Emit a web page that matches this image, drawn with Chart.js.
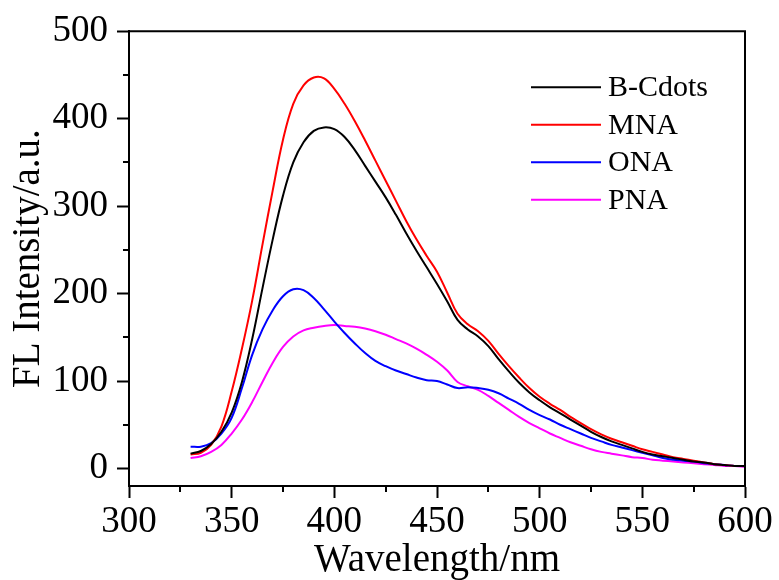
<!DOCTYPE html>
<html>
<head>
<meta charset="utf-8">
<script src="https://cdn.jsdelivr.net/npm/chart.js@4.4.1/dist/chart.umd.min.js"></script>
<style>
  html, body { margin: 0; padding: 0; background: #fff; }
  #wrap { width: 779px; height: 580px; }
</style>
</head>
<body>
<div id="wrap"><canvas id="flChart" width="779" height="580"></canvas></div>
<script>
// wavelength (nm)
const wavelengths = [330, 335, 340, 345, 350, 355, 360, 365, 370, 375,
  380, 385, 390, 395, 400, 405, 410, 415, 420, 425,
  430, 435, 440, 445, 450, 455, 460, 465, 470, 475,
  480, 485, 490, 495, 500, 505, 510, 515, 520, 525,
  530, 535, 540, 545, 550, 555, 560, 565, 570, 575,
  580, 585, 590, 595, 600];

const bCdots = [17, 20, 28, 42, 64, 99, 148, 206, 262, 312,
  350, 373, 386, 390, 388, 379, 364, 346, 328, 310,
  290, 269, 249, 230, 211, 191, 170, 159, 151, 140,
  125, 111, 98, 87, 78, 70, 63, 56, 49, 42,
  36, 31, 27, 23, 19, 16, 14, 12, 10, 8,
  7, 5, 4, 3, 3];

const mna = [16, 18, 27, 48, 88, 137, 192, 256, 318, 376,
  417, 438, 447, 446, 434, 417, 397, 375, 352, 329,
  306, 283, 262, 243, 225, 201, 177, 165, 157, 146,
  131, 117, 104, 92, 82, 74, 67, 59, 52, 45,
  39, 34, 30, 26, 22, 19, 16, 13, 11, 9,
  7, 5, 4, 3, 3];

const ona = [25, 25, 29, 40, 58, 92, 130, 159, 181, 197,
  205, 204, 195, 182, 168, 155, 143, 132, 123, 117,
  112, 108, 104, 101, 100, 96, 92, 93, 92, 90,
  86, 80, 74, 67, 61, 56, 50, 45, 40, 35,
  31, 27, 24, 21, 18, 15, 12, 10, 9, 8,
  6, 5, 4, 3, 3];

const pna = [12, 14, 19, 27, 40, 56, 76, 99, 121, 139,
  151, 158, 161, 163, 164, 163, 162, 160, 157, 153,
  148, 143, 137, 130, 122, 112, 99, 94, 90, 83,
  75, 67, 59, 52, 46, 40, 35, 30, 26, 22,
  19, 17, 15, 13, 12, 10, 9, 8, 7, 6,
  5, 4, 3, 3, 2];

const seriesNames = ['B-Cdots', 'MNA', 'ONA', 'PNA'];
const seriesColors = ['#000000', '#ff0000', '#0000ff', '#ff00ff'];

const xTicks = [300, 350, 400, 450, 500, 550, 600];
const yTicks = [0, 100, 200, 300, 400, 500];
const xMinorTicks = [325, 375, 425, 475, 525, 575];
const yMinorTicks = [50, 150, 250, 350, 450];

const serifFont = '"Liberation Serif", "Times New Roman", serif';

function toPoints(values) {
  return wavelengths.map((w, i) => ({ x: w, y: values[i] }));
}

// top/right frame lines and the short minor ticks
const frameAndMinorTicks = {
  id: 'frameAndMinorTicks',
  afterDraw(chart) {
    const { ctx, chartArea: a, scales: { x, y } } = chart;
    ctx.save();
    ctx.strokeStyle = '#000';
    ctx.lineWidth = 2;
    ctx.beginPath();
    ctx.moveTo(a.left - 1, a.top);
    ctx.lineTo(a.right, a.top);
    ctx.lineTo(a.right, a.bottom + 1);
    ctx.stroke();

    ctx.beginPath();
    xMinorTicks.forEach(v => {
      const px = Math.round(x.getPixelForValue(v));
      ctx.moveTo(px, a.bottom);
      ctx.lineTo(px, a.bottom + 6);
    });
    yMinorTicks.forEach(v => {
      const py = Math.round(y.getPixelForValue(v));
      ctx.moveTo(a.left, py);
      ctx.lineTo(a.left - 6, py);
    });
    ctx.stroke();
    ctx.restore();
  }
};

// legend drawn inside the plot, upper right
const insideLegend = {
  id: 'insideLegend',
  afterDatasetsDraw(chart) {
    const { ctx, chartArea: a } = chart;
    const lineStart = a.right - 214;
    const lineEnd = lineStart + 70;
    ctx.save();
    ctx.font = '30px ' + serifFont;
    ctx.textBaseline = 'middle';
    ctx.fillStyle = '#000';
    chart.data.datasets.forEach((ds, i) => {
      const rowY = a.top + 56 + i * 37.5;
      ctx.strokeStyle = ds.borderColor;
      ctx.lineWidth = 2;
      ctx.beginPath();
      ctx.moveTo(lineStart, rowY);
      ctx.lineTo(lineEnd, rowY);
      ctx.stroke();
      ctx.fillText(ds.label, lineEnd + 7, rowY + 1);
    });
    ctx.restore();
  }
};

Chart.defaults.color = '#000';
Chart.defaults.font.family = serifFont;

const ctx = document.getElementById('flChart').getContext('2d');

new Chart(ctx, {
  type: 'line',
  data: {
    datasets: [bCdots, mna, ona, pna].map((vals, i) => ({
      label: seriesNames[i],
      data: toPoints(vals),
      borderColor: seriesColors[i],
      backgroundColor: seriesColors[i],
      borderWidth: 2,
      pointRadius: 0,
      fill: false,
      tension: 0.4
    }))
  },
  options: {
    responsive: false,
    animation: false,
    layout: { padding: { left: 0, top: 31, right: 34, bottom: 0 } },
    plugins: {
      legend: { display: false },
      tooltip: { enabled: false }
    },
    scales: {
      x: {
        type: 'linear',
        min: 300,
        max: 600,
        afterBuildTicks: scale => { scale.ticks = xTicks.map(v => ({ value: v })); },
        afterFit: scale => { scale.height = 94; },
        border: { display: true, color: '#000', width: 2 },
        grid: { drawOnChartArea: false, drawTicks: true, tickLength: 12, tickColor: '#000', tickWidth: 2 },
        ticks: { padding: 2, font: { size: 37 }, color: '#000', maxRotation: 0 },
        title: {
          display: true,
          text: 'Wavelength/nm',
          font: { size: 39, lineHeight: 1 },
          padding: { top: 0, bottom: 0 },
          color: '#000'
        }
      },
      y: {
        type: 'linear',
        min: -20,
        max: 500,
        afterBuildTicks: scale => { scale.ticks = yTicks.map(v => ({ value: v })); },
        afterFit: scale => { scale.width = 129; },
        border: { display: true, color: '#000', width: 2 },
        grid: { drawOnChartArea: false, drawTicks: true, tickLength: 12, tickColor: '#000', tickWidth: 2 },
        ticks: { padding: 9, font: { size: 37 }, color: '#000' },
        title: {
          display: true,
          text: 'FL Intensity/a.u.',
          font: { size: 39, lineHeight: 1 },
          padding: { top: 9, bottom: 0 },
          color: '#000'
        }
      }
    }
  },
  plugins: [frameAndMinorTicks, insideLegend]
});
</script>
</body>
</html>
